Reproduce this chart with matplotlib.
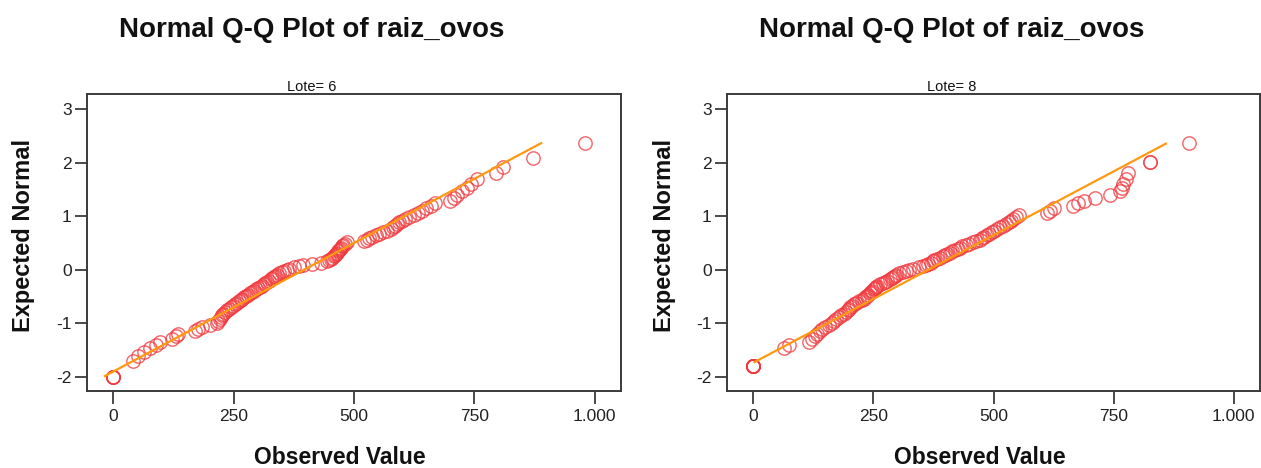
import numpy as np
import matplotlib
matplotlib.use("Agg")
import matplotlib.pyplot as plt
from statistics import NormalDist

# ---------------- data ----------------
chart_title = "Normal Q-Q Plot of raiz_ovos"
panel_labels = ["Lote= 6", "Lote= 8"]

# observed values of raiz_ovos, sorted (n = 111 per panel)
obs_lote6 = [0, 0, 0, 0, 41, 50, 64, 75, 88, 97, 122, 130, 135, 170, 175, 184, 200, 215,
             218, 221, 223, 225, 227, 232, 236, 240, 245, 249, 253, 256, 261, 265, 268, 272,
             276, 280, 284, 288, 292, 296, 300, 304, 308, 312, 316, 320, 323, 327, 330, 333,
             336, 339, 344, 350, 355, 360, 365, 375, 385, 395, 412, 432, 443, 448, 452, 455,
             459, 461, 463, 465, 467, 469, 471, 473, 476, 478, 481, 485, 520, 527, 532, 538,
             545, 553, 560, 568, 577, 582, 586, 590, 594, 600, 607, 615, 624, 632, 642, 650,
             660, 668, 700, 708, 715, 725, 735, 743, 756, 795, 810, 873, 980]

obs_lote8 = [0, 0, 0, 0, 0, 0, 0, 64, 75, 116, 122, 128, 133, 138, 143, 150, 157, 163, 168,
             173, 178, 183, 188, 192, 196, 199, 202, 205, 209, 213, 220, 226, 230, 233, 236,
             239, 242, 245, 248, 251, 253, 255, 258, 263, 269, 274, 279, 284, 288, 291, 294,
             297, 304, 311, 318, 324, 333, 345, 353, 359, 364, 369, 373, 377, 382, 388, 394,
             399, 404, 409, 414, 420, 426, 431, 435, 443, 450, 457, 464, 471, 476, 481, 486,
             491, 496, 502, 507, 513, 520, 527, 532, 536, 541, 547, 553, 612, 618, 625, 665,
             676, 688, 712, 743, 764, 767, 770, 775, 781, 825, 825, 908]

# reference line: mean, sd and expected-normal range covered by the line
line_mean = [396.0, 364.5]
line_sd = [208.0, 209.5]
line_y_range = [(-1.99, 2.37), (-1.73, 2.36)]

x_ticks = [0, 250, 500, 750, 1000]
x_tick_labels = ["0", "250", "500", "750", "1.000"]
y_ticks = [-2, -1, 0, 1, 2, 3]
y_tick_labels = ["-2", "-1", "0", "1", "2", "3"]


def expected_normal(values):
    """Van der Waerden normal scores with mean ranks for ties (Q-Q transform)."""
    v = np.sort(np.asarray(values, dtype=float))
    n = len(v)
    ranks = np.arange(1, n + 1, dtype=float)
    for val in np.unique(v):
        m = v == val
        ranks[m] = ranks[m].mean()
    nd = NormalDist()
    return v, np.array([nd.inv_cdf(r / (n + 1)) for r in ranks])


# ---------------- figure ----------------
W, H = 1261, 468
fig = plt.figure(figsize=(W / 100, H / 100), dpi=100)
fig.patch.set_facecolor("white")

FONT = ["Liberation Sans", "DejaVu Sans"]
spine_col = "#3a3a3a"
pt_col = (0.94, 0.22, 0.24)
line_col = "#ff9910"

axes_px = [(87, 94, 534, 297), (727, 94, 533, 297)]
title_cx = [312, 952]
ylabel_cx = [24, 664]
xlabel_cx = [340, 980]

for k, (obs, lab) in enumerate(zip([obs_lote6, obs_lote8], panel_labels)):
    x0, y0, w, h = axes_px[k]
    ax = fig.add_axes([x0 / W, 1 - (y0 + h) / H, w / W, h / H])
    xv, yv = expected_normal(obs)
    ax.plot(xv, yv, linestyle="none", marker="o", markersize=9.6,
            markerfacecolor="none", markeredgecolor=pt_col, markeredgewidth=1.05,
            alpha=0.75, zorder=2, clip_on=False)
    ly = np.array(line_y_range[k])
    ax.plot(line_mean[k] + line_sd[k] * ly, ly, color=line_col, lw=1.6, zorder=3)

    ax.set_xlim(-55, 1055)
    ax.set_ylim(-2.27, 3.29)
    ax.set_xticks(x_ticks)
    ax.set_xticklabels(x_tick_labels)
    ax.set_yticks(y_ticks)
    ax.set_yticklabels(y_tick_labels)
    for s in ax.spines.values():
        s.set_color(spine_col)
        s.set_linewidth(1.4)
    ax.tick_params(axis="both", direction="out", length=9, width=1.3,
                   color=spine_col, labelcolor="#222222", labelsize=12.5)
    ax.tick_params(axis="x", pad=4)
    ax.tick_params(axis="y", pad=2)
    for t in ax.get_xticklabels() + ax.get_yticklabels():
        t.set_family(FONT)

    fig.text(title_cx[k] / W, 1 - 30 / H, chart_title, ha="center", va="center",
             fontsize=20, fontweight="bold", family=FONT, color="#111111")
    fig.text(title_cx[k] / W, 1 - 87 / H, lab, ha="center", va="center",
             fontsize=10.5, family=FONT, color="#111111")
    fig.text(ylabel_cx[k] / W, 1 - 236 / H, "Expected Normal", rotation=90,
             ha="center", va="center", fontsize=17, fontweight="bold",
             family=FONT, color="#111111")
    fig.text(xlabel_cx[k] / W, 1 - 457 / H, "Observed Value", ha="center",
             va="center", fontsize=16.5, fontweight="bold", family=FONT,
             color="#111111")

fig.savefig("out.png", dpi=100, facecolor="white")
